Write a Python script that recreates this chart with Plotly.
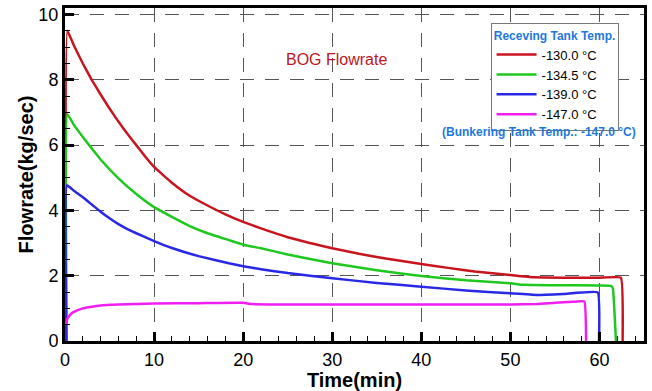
import plotly.graph_objects as go

# ---- data ----
red_t = [0.15, 0.26, 1, 2, 3, 4, 5, 6, 7, 8, 9, 10, 12, 14, 16, 18, 20, 22, 25, 28, 30, 33, 36, 40, 43, 46, 50, 52.7, 56, 60, 62.4, 62.6]
red_y = [0, 9.5, 9.05, 8.5, 8.0, 7.55, 7.12, 6.72, 6.35, 6.0, 5.65, 5.33, 4.85, 4.45, 4.15, 3.88, 3.65, 3.45, 3.18, 2.97, 2.84, 2.67, 2.53, 2.36, 2.24, 2.13, 2.02, 1.95, 1.94, 1.94, 1.94, 0]

green_t = [0.15, 0.26, 1, 2, 3, 4, 6, 8, 10, 12, 14, 16, 18.4, 20, 22, 25, 30, 35, 40, 45, 50, 51.5, 55, 60, 61.3, 61.5, 61.85]
green_y = [0, 6.95, 6.62, 6.25, 5.9, 5.56, 4.98, 4.5, 4.1, 3.8, 3.52, 3.3, 3.09, 2.95, 2.84, 2.65, 2.38, 2.17, 1.99, 1.86, 1.77, 1.72, 1.71, 1.7, 1.69, 1.62, 0]

blue_t = [0.15, 0.22, 1, 2, 3, 4, 5, 6, 7, 8, 10, 12, 15, 18.4, 20, 22, 25, 30, 35, 40, 45, 50, 53, 56, 59.8, 59.95]
blue_y = [0, 4.77, 4.6, 4.4, 4.18, 3.96, 3.76, 3.58, 3.43, 3.3, 3.06, 2.85, 2.6, 2.38, 2.29, 2.2, 2.08, 1.92, 1.78, 1.66, 1.55, 1.46, 1.41, 1.44, 1.49, 0]

mag_t = [0.08, 0.3, 0.75, 1.3, 2, 3, 4, 6, 10, 15, 20, 21, 30, 40, 50, 53, 55, 57, 58.3, 58.5]
mag_y = [0.5, 0.7, 0.85, 0.93, 1.0, 1.05, 1.09, 1.12, 1.15, 1.16, 1.17, 1.13, 1.12, 1.12, 1.12, 1.13, 1.17, 1.2, 1.21, 0]

series_names = ["-130.0 °C", "-134.5 °C", "-139.0 °C", "-147.0 °C"]
series_colors = ["#c8141e", "#1ec81e", "#2828e6", "#f01ef0"]

fig = go.Figure()
for t, y, name, col in zip([red_t, green_t, blue_t, mag_t], [red_y, green_y, blue_y, mag_y], series_names, series_colors):
    fig.add_trace(go.Scatter(x=t, y=y, mode="lines", name=name,
                             line=dict(color=col, width=2.5, shape="spline", smoothing=0.3)))

font_family = "Liberation Sans, Arial, sans-serif"
axis_common = dict(
    showline=True, linecolor="black", linewidth=3, mirror=True,
    ticks="inside", ticklen=9, tickwidth=2.5, tickcolor="black",
    showgrid=True, gridcolor="#555555", gridwidth=1, griddash="14px,11px",
    zeroline=False,
    tickfont=dict(family=font_family, size=18, color="black"),
)

fig.update_xaxes(range=[0, 65], tick0=0, dtick=10,
                 minor=dict(dtick=2, ticks="inside", ticklen=5, tickwidth=1.2, tickcolor="black", showgrid=False),
                 title=dict(text="<b>Time(min)</b>", font=dict(family=font_family, size=20, color="black"), standoff=2),
                 **axis_common)
fig.update_yaxes(range=[0, 10.2], tick0=0, dtick=2,
                 minor=dict(dtick=0.5, ticks="inside", ticklen=5, tickwidth=1.2, tickcolor="black", showgrid=False),
                 title=dict(text="<b>Flowrate(kg/sec)</b>", font=dict(family=font_family, size=20, color="black"), standoff=0),
                 **axis_common)

fig.update_layout(
    width=652, height=391,
    margin=dict(l=65, r=5, t=8, b=48),
    plot_bgcolor="white", paper_bgcolor="white",
    legend=dict(
        x=0.735, y=0.955, xanchor="left", yanchor="top",
        bgcolor="white", bordercolor="#777777", borderwidth=1,
        font=dict(family=font_family, size=13, color="black"),
        title=dict(text="<b>Receving Tank Temp.</b>", side="top center",
                   font=dict(family=font_family, size=12, color="#1e78dc")),
        tracegroupgap=0, itemwidth=40,
    ),
    annotations=[
        dict(text="BOG Flowrate", x=0.469, y=0.878, xref="paper", yref="paper",
             showarrow=False, font=dict(family=font_family, size=16, color="#c0141e")),
        dict(text="<b>(Bunkering Tank Temp.: -147.0 °C)</b>", x=0.99, y=0.628, xref="paper", yref="paper",
             xanchor="right", showarrow=False, font=dict(family=font_family, size=12, color="#1e78dc")),
    ],
)

fig.write_html("out.html")
